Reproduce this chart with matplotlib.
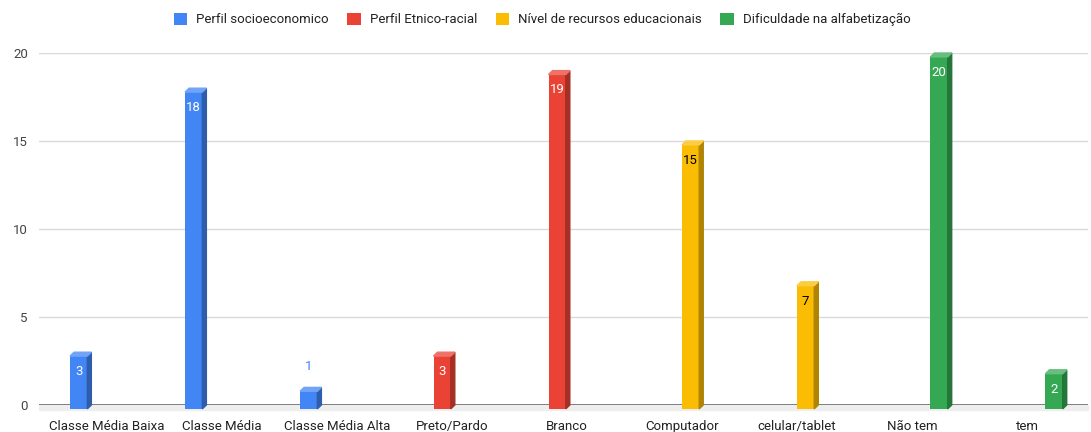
import numpy as np
import matplotlib
matplotlib.use("Agg")
import matplotlib.pyplot as plt
from matplotlib.patches import Polygon, Patch
import matplotlib.colors as mcolors

plt.rcParams["font.family"] = ["Roboto", "DejaVu Sans"]

categories = ["Classe Média Baixa", "Classe Média", "Classe Média Alta",
              "Preto/Pardo", "Branco", "Computador", "celular/tablet",
              "Não tem", "tem"]
series_names = ["Perfil socioeconomico", "Perfil Etnico-racial",
                "Nível de recursos educacionais", "Dificuldade na alfabetização"]
# one value per category, the rest of the series are empty
socio = [3, 18, 1, 0, 0, 0, 0, 0, 0]
etnico = [0, 0, 0, 3, 19, 0, 0, 0, 0]
recursos = [0, 0, 0, 0, 0, 15, 7, 0, 0]
alfabet = [0, 0, 0, 0, 0, 0, 0, 20, 2]
yticks = [0, 5, 10, 15, 20]

colors = ["#4285F4", "#EA4335", "#FBBC04", "#34A853"]
label_colors = ["white", "white", "black", "white"]

def darker(c, f=0.7):
    r, g, b = mcolors.to_rgb(c)
    return (r * f, g * f, b * f)

def lighter(c, f=0.25):
    r, g, b = mcolors.to_rgb(c)
    return (r + (1 - r) * f, g + (1 - g) * f, b + (1 - b) * f)

fig = plt.figure(figsize=(10.91, 4.32), dpi=100)
ax = fig.add_axes([39 / 1091, 27 / 432, (1088 - 39) / 1091, 352 / 432])

slot = 0.16
bw = 0.15
dx, dy = 0.035, 0.22  # 3D depth in data units
x = np.arange(len(categories))

for s, vals in enumerate([socio, etnico, recursos, alfabet]):
    col = colors[s]
    for i, v in enumerate(vals):
        if v == 0:
            continue
        left = x[i] - 2 * slot + s * slot
        # front face sits one depth step in front of (below) the value plane
        ax.bar(left, v, bottom=-dy, width=bw, align="edge", color=col,
               zorder=3, clip_on=False)
        # side face
        ax.add_patch(Polygon([(left + bw, -dy), (left + bw + dx, 0),
                              (left + bw + dx, v), (left + bw, v - dy)],
                             closed=True, color=darker(col), zorder=3, clip_on=False))
        # top face
        ax.add_patch(Polygon([(left, v - dy), (left + dx, v),
                              (left + bw + dx, v), (left + bw, v - dy)],
                             closed=True, color=lighter(col), zorder=3, clip_on=False))
        cx = left + bw / 2
        if v >= 2:
            ax.text(cx, v - 1.1, str(v), ha="center", va="center",
                    color=label_colors[s], fontsize=9.5, zorder=4)
        else:
            ax.text(cx, v + 1.2, str(v), ha="center", va="center",
                    color=col, fontsize=9.5, zorder=4)

ax.set_xlim(-0.59, 8.53)
ax.set_ylim(0, 20)
ax.set_yticks(yticks)
ax.set_xticks(x)
ax.set_xticklabels(categories, fontsize=9.5, color="#222222")
ax.tick_params(axis="y", labelsize=9.5, labelcolor="#444444", length=0, pad=8)
ax.tick_params(axis="x", length=0, pad=10.5)
for sp in ax.spines.values():
    sp.set_visible(False)
ax.grid(axis="y", color="#d9d9d9", linewidth=1, zorder=0)
ax.set_axisbelow(True)
# baseline with floor band
ax.axhline(0, color="#757575", linewidth=1.3, zorder=2)
ax.axhspan(-0.28, 0, color="#eeeeee", zorder=1, clip_on=False)

handles = [Patch(facecolor=c, edgecolor="none") for c in colors]
fig.legend(handles, series_names, loc="center", bbox_to_anchor=(0.497, 0.955),
           ncol=4, frameon=False, fontsize=9.5, handlelength=1.0, handleheight=1.0,
           handletextpad=0.7, columnspacing=1.4, labelcolor="#222222")

fig.savefig("out.png", dpi=100)
